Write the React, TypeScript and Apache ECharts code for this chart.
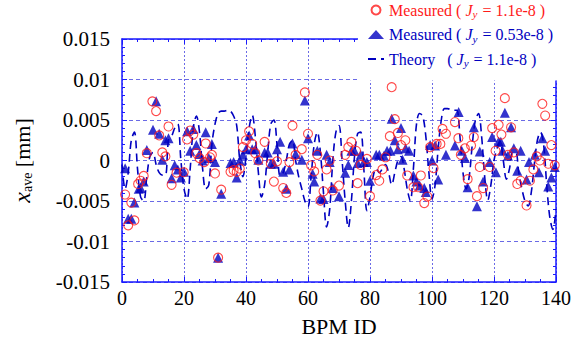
import React, { useEffect, useRef } from 'react';
import * as echarts from 'echarts';

const FONT = 'Liberation Serif';
const FRAME = '#1a1aff';
const GRID = '#6a6ae6';
const RED = '#ff1a1a';
const BLUE = '#0000c0';

const N1 = 'Measured ( Jy = 1.1e-8 )';
const N2 = 'Measured ( Jy = 0.53e-8 )';
const N3 = 'Theory   ( Jy = 1.1e-8 )';

const xTicks = [0, 20, 40, 60, 80, 100, 120, 140];
const yTicks = [-0.015, -0.01, -0.005, 0, 0.005, 0.01, 0.015];

// values in units of 1e-3 mm: [BPM ID, x_ave]
const measuredJy11: number[][] = [
  [1, -4.2], [2, -8.0], [3, -5.2], [4, -7.4], [5.2, -2.9], [6, -2.5], [7, -1.9], [8, 0.9],
  [9.8, 7.3], [11, 6.1], [12, 3.1], [13, 1.0], [14, 0.5], [15, 4.2], [16, -3.0], [17.6, -1.5],
  [19.9, -1.45], [21, 2.6], [22, 3.7], [23, 3.2], [24, 0.9], [25, 0.3], [26.5, -0.2], [27, 2.1],
  [28.4, 0.4], [29, 0.7], [30, -1.6], [31, -12], [32, -3.6], [35, -1.4], [36, -1.2], [37, -1.4],
  [38, -1.0], [39, 1.65], [40, 2.5], [41, 3.6], [42, 2.05], [43, 0.9], [44, 0], [46, 2.3],
  [48, -0.4], [49, -2.6], [50, -0.1], [52, -3.4], [53, -4.0], [54, -0.2], [55, 4.3], [56, 0.7],
  [58, 1.4], [59, 8.4], [60, 3.3], [61, -0.6], [62, -1.35], [63, 0.7], [64, -4.95], [65, -3.8],
  [66, -1.1], [67, 0], [68, -3.7], [70, -3.1], [72, 0.7], [73, 1.65], [74, 2.3], [75.5, 1.2],
  [76, -2.8], [77, -0.55], [79, 0.2], [80, -4.4], [82, -1.8], [83, -2.5], [84, -1.1], [85, 0.4],
  [86.4, 3.0], [87, 9.05], [88, 5.1], [89, 3.4], [90, 1.9], [91.4, 2.5], [92, -1.85], [94, -3.3],
  [95.5, -3.3], [96.4, -1.85], [97.5, -5.25], [98.5, -4.45], [99.4, 1.65], [100.5, -0.95], [101.5, 2.05], [102.7, 2.05],
  [103.4, 3.9], [104.5, 3.3], [107.4, 4.75], [108.5, 2.75], [109.3, 0.7], [110.6, 1.5], [111.5, -2.3], [112.6, 1.85],
  [113.5, 2.9], [114.5, -4.4], [115.4, -0.8], [116.5, -3.4], [118.6, -0.8], [119.4, 4.0], [120.5, 1.2], [121.5, 4.4],
  [122.4, 3.2], [123.5, 7.7], [124.5, 0.7], [125.5, 4.1], [126.4, 1.0], [127.5, -2.9], [128.6, -2.5], [130.5, -5.55],
  [131.6, -2.5], [132.7, -1.1], [133.8, 0.5], [134.8, 0], [135.6, 7.0], [136.5, 5.55], [137.5, -0.4], [138.5, 1.9],
  [139.6, -0.6],
];

const measuredJy053: number[][] = [
  [1, -0.95], [2, -7.2], [3, -7.2], [4, -5.2], [5.4, -3.5], [6, -3.4], [7, -2.6], [8, 1.3],
  [10, 3.8], [11, 7.3], [12, 3.3], [13, 0.1], [14, 2.5], [15, 2.75], [16, -2.2], [17, -0.6],
  [18, -1.1], [19, -2.1], [20, -1.4], [21, 3.6], [22, 1.2], [23, 3.9], [24, 1.9], [25, 0.8],
  [26, 0], [27, 3.5], [28, 0.3], [29, 2.05], [30, -0.2], [31, -12], [32, -4.1], [35, -0.3],
  [36, -0.2], [37, -2.1], [38, 0], [39, 0.7], [40, 1.4], [41, 3.1], [42, 1.4], [43, 1.4],
  [44, 0.1], [46, 1.0], [47, 1.0], [48, -0.4], [49, -0.4], [50, 1.4], [51, 2.3], [52, -1.4],
  [53, -3.5], [54, -1.1], [55, 2.1], [56, 0.8], [58, 0.1], [59, 7.4], [60, 2.75], [61.5, -1.65],
  [62, -2.6], [63, 1.2], [64, -4.7], [65, -4.75], [66, 0.7], [67, -0.2], [68, -3.4], [70, -4.4],
  [72, -1.5], [73, -0.55], [74, 1.2], [75, 1.2], [76, -0.3], [77, 0.7], [78, -0.2], [79, -0.2],
  [80, -2.5], [82, 0.7], [83, 0.7], [84.5, 0.6], [85.5, 1.2], [86.6, 1.2], [87, 5.15], [88, 2.5],
  [89, 1.4], [90, 4.0], [90.5, 0.1], [91.5, 1.5], [92.6, 1.2], [94, -1.85], [95, -2.6], [96, -3.1],
  [97.5, -3.4], [98, -3.9], [99.4, 1.9], [100, 0], [101, 1.85], [102, -2.35], [104.5, 0.7], [107.4, 1.85],
  [108.6, 6.0], [109.6, 1.2], [110.6, 0.3], [111.5, -3.3], [113.5, 4.1], [114.5, -5.65], [115.4, 1.1], [116.5, -2.6],
  [118.6, -0.2], [119.4, 2.9], [120.6, -1.45], [121.5, 2.35], [122.2, 2.3], [122.8, 1.2], [123.5, 5.9], [124.5, 0.6],
  [125.5, 4.1], [126.4, 1.5], [127.5, -1.25], [128.6, 1.2], [130.5, -2.35], [131.3, -0.2], [133.2, 0.7], [134.5, -1.45],
  [135.6, 2.75], [136.5, 1.2], [137.5, -3.2], [138.5, -2.1], [139.6, -0.8],
];

// theory, one value per BPM 0..140 (1e-3 mm)
const theoryJy11: number[] = [
  -0.5, -3.5, -1.5, 2.5, 3.5, -1, -4.5, -5, -2, 0.5,
  1, -0.5, -1.5, -1.8, -1.8, 2.5, 3, 4, 4.5, 0,
  -3.5, -4.75, -1, 4, 5.5, 3.5, -1, -3.5, -3, 2,
  4.5, 5.8, 6.1, 6.1, 6.2, 6.1, 5.5, 4.3, 0, -2,
  0.5, 4, 5.6, 3, -1.5, -4.5, -3, 1, 4.5, 5,
  2, -1.9, -1.5, 0, 2, 2.5, 0, -2, -3.5, -5,
  -5.7, -2, 2, 3.5, 1, -4, -8.2, -6, 0, 3.5,
  4.3, 0, -5, -8.3, -5, 0.5, 3.3, 3.5, -1, -6.2,
  -4.5, -2, -1, -1.5, -1, -0.5, -1.5, -3, -1.5, 0,
  0.5, -1, -3.5, -5, -1, 4.5, 5.8, 5.5, 3, -1.5,
  -4.75, -3, 1.5, 5, 6.4, 6.4, 6.3, 6.2, 6.2, 3,
  -1.5, -3.5, -2, 2, 5, 5.8, 3, -2, -4.9, -3,
  0, 1.5, 2.3, 0, -2.3, -1, 1, 1, -1.5, -3.5,
  -5, -5.6, -4, -0.5, 2.5, 3.5, 2, -3, -7, -8.5,
  -6,
];

const toMm = (pts: number[][]) => pts.map(([x, v]) => [x, v / 1000]);

const legendRich: Record<string, string> = {
  [N1]: '{a|Measured ( }{j|J}{s|y}{a| = 1.1e-8 )}',
  [N2]: '{a|Measured ( }{j|J}{s|y}{a| = 0.53e-8 )}',
  [N3]: '{a|Theory   ( }{j|J}{s|y}{a| = 1.1e-8 )}',
};

function buildOption(): any {
  const tickFmt = (v: number) => (Math.abs(v) < 1e-12 ? '0' : String(+v.toFixed(3)));
  const baseX = {
    type: 'value', min: xTicks[0], max: xTicks[xTicks.length - 1], interval: 20,
    axisLine: { show: true, onZero: false, lineStyle: { color: FRAME, width: 1.5 } },
    axisTick: { show: true, inside: true, length: 5, lineStyle: { color: FRAME } },
    minorTick: { show: true, splitNumber: 4, length: 3, lineStyle: { color: FRAME } },
  };
  const baseY = {
    type: 'value', min: yTicks[0], max: yTicks[yTicks.length - 1], interval: 0.005,
    axisLine: { show: true, onZero: false, lineStyle: { color: FRAME, width: 1.5 } },
    axisTick: { show: true, inside: true, length: 5, lineStyle: { color: FRAME } },
    minorTick: { show: true, splitNumber: 5, length: 3, lineStyle: { color: FRAME } },
  };
  return {
    animation: false,
    backgroundColor: '#fff',
    textStyle: { fontFamily: FONT },
    grid: { left: 122, right: 24, top: 39, bottom: 60, containLabel: false },
    legend: {
      orient: 'vertical', left: 358, top: 0,
      padding: [2, 30, 12, 9], itemGap: 7, itemWidth: 16, itemHeight: 9,
      backgroundColor: '#fff',
      z: 10,
      data: [
        { name: N1, textStyle: { color: RED } },
        { name: N2, textStyle: { color: BLUE } },
        { name: N3, textStyle: { color: BLUE }, itemStyle: { opacity: 0 } },
      ],
      formatter: (name: string) => legendRich[name] || name,
      textStyle: {
        fontFamily: FONT, fontSize: 16,
        rich: {
          a: { fontFamily: FONT, fontSize: 16 },
          j: { fontFamily: FONT, fontSize: 16, fontStyle: 'italic' },
          s: { fontFamily: FONT, fontSize: 11, fontStyle: 'italic', padding: [8, 1, 0, 0] },
        },
      },
    },
    xAxis: [
      {
        ...baseX, position: 'bottom',
        axisLabel: { color: '#000', fontFamily: FONT, fontSize: 20, margin: 6 },
        splitLine: { show: true, lineStyle: { color: GRID, type: [2, 2], width: 1 } },
        name: 'BPM ID', nameLocation: 'middle', nameGap: 33,
        nameTextStyle: { color: '#000', fontFamily: FONT, fontSize: 22 },
      },
      { ...baseX, position: 'top', axisLabel: { show: false }, splitLine: { show: false } },
    ],
    yAxis: [
      {
        ...baseY, position: 'left',
        axisLabel: { color: '#000', fontFamily: FONT, fontSize: 21, margin: 12, formatter: tickFmt },
        splitLine: { show: true, lineStyle: { color: GRID, type: [4, 3], width: 1 } },
        name: '{x|x}{s|ave}{a| [mm]}', nameLocation: 'middle', nameGap: 88, nameRotate: 90,
        nameTextStyle: {
          color: '#000', fontFamily: FONT, fontSize: 22,
          rich: {
            x: { fontFamily: FONT, fontSize: 24, fontStyle: 'italic' },
            s: { fontFamily: FONT, fontSize: 14, padding: [10, 0, 0, 0] },
            a: { fontFamily: FONT, fontSize: 22 },
          },
        },
      },
      { ...baseY, position: 'right', axisLabel: { show: false }, splitLine: { show: false } },
    ],
    series: [
      {
        name: N3, type: 'line', xAxisIndex: 0, yAxisIndex: 0,
        data: theoryJy11.map((v, i) => [i, v / 1000]),
        showSymbol: false, symbol: 'none', smooth: 0.35,
        lineStyle: { color: BLUE, width: 1.6, type: [8, 5] },
        itemStyle: { color: BLUE },
        z: 2,
      },
      {
        name: N2, type: 'scatter', xAxisIndex: 0, yAxisIndex: 0,
        data: toMm(measuredJy053), symbol: 'triangle', symbolSize: 10,
        itemStyle: { color: BLUE },
        z: 3,
      },
      {
        name: N1, type: 'scatter', xAxisIndex: 0, yAxisIndex: 0,
        data: toMm(measuredJy11), symbol: 'circle', symbolSize: 9,
        itemStyle: { color: 'rgba(255,255,255,0)', borderColor: RED, borderWidth: 1.1 },
        z: 4,
      },
    ],
  };
}

export default function App() {
  const ref = useRef<HTMLDivElement>(null);
  useEffect(() => {
    if (!ref.current) return;
    const chart = echarts.init(ref.current, null, { renderer: 'svg' });
    chart.setOption(buildOption());
    return () => chart.dispose();
  }, []);
  return <div ref={ref} style={{ position: 'fixed', left: 0, top: 0, width: 580, height: 342 }} />;
}
